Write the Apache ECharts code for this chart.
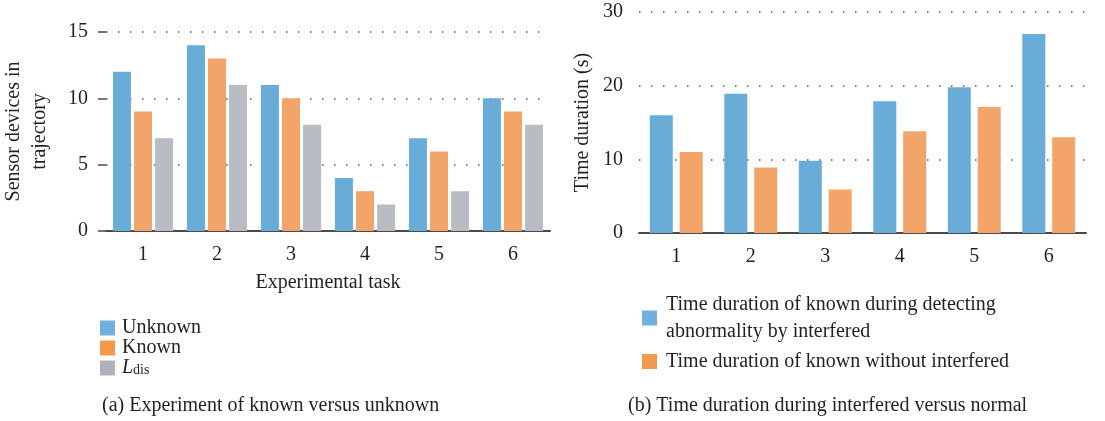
<!DOCTYPE html>
<html>
<head>
<meta charset="utf-8">
<script src="https://cdn.jsdelivr.net/npm/echarts@6/dist/echarts.min.js"></script>
<style>
  html, body { margin: 0; padding: 0; background: #fff; }
  #chart { width: 1105px; height: 421px; }
</style>
</head>
<body>
<div id="chart"></div>
<script>
// data
const tasks = ['1', '2', '3', '4', '5', '6'];
const unknownVals = [12, 14, 11, 4, 7, 10];
const knownVals = [9, 13, 10, 3, 6, 9];
const ldisVals = [7, 11, 8, 2, 3, 8];
const interferedVals = [16, 18.9, 9.8, 17.9, 19.8, 27];
const normalVals = [11, 8.9, 5.9, 13.8, 17.1, 13];
const leftTicks = [0, 5, 10, 15];
const rightTicks = [0, 10, 20, 30];

const serif = '"Liberation Serif", "DejaVu Serif", serif';
const textColor = '#231f20';
const blue = '#69acd8', orange = '#f3a469', grey = '#b9bcc3';

const chart = echarts.init(document.getElementById('chart'));

const catAxis = (gridIndex, name) => ({
  type: 'category',
  gridIndex,
  data: tasks,
  name,
  nameLocation: 'middle',
  nameGap: 42,
  nameTextStyle: { fontFamily: serif, fontSize: 20, color: textColor },
  axisLine: { lineStyle: { color: '#4a4a4a', width: 2 } },
  axisTick: { alignWithLabel: true, length: 6, lineStyle: { color: '#4a4a4a', width: 1.5 } },
  axisLabel: { fontFamily: serif, fontSize: 20, color: textColor, margin: 14 },
});

const valAxis = (gridIndex, ticks, name, nameGap, showTick) => ({
  type: 'value',
  gridIndex,
  min: ticks[0],
  max: ticks[ticks.length - 1],
  interval: ticks[1] - ticks[0],
  name,
  nameLocation: 'middle',
  nameGap,
  nameTextStyle: { fontFamily: serif, fontSize: 20, color: textColor, lineHeight: 26 },
  axisLine: { show: false },
  axisTick: { show: showTick, length: 8, lineStyle: { color: '#4a4a4a', width: 1.5 } },
  axisLabel: { fontFamily: serif, fontSize: 20, color: textColor, margin: showTick ? 18 : 16 },
  splitLine: {
    lineStyle: { color: '#555', width: 1.5, type: [1.5, 10.5] }
  },
});

const bar = (name, data, color, axisIdx, width, gap) => ({
  name,
  type: 'bar',
  xAxisIndex: axisIdx,
  yAxisIndex: axisIdx,
  data,
  barWidth: width,
  barGap: gap,
  itemStyle: { color },
});

const option = {
  animation: false,
  grid: [
    { left: 100, width: 450, top: 32, height: 199 },
    { left: 639, width: 447, top: 12, height: 221 },
  ],
  xAxis: [catAxis(0, 'Experimental task'), catAxis(1, '')],
  yAxis: [
    valAxis(0, leftTicks, 'Sensor devices in\ntrajectory', 53, true),
    valAxis(1, rightTicks, 'Time duration (s)', 43, false),
  ],
  legend: [
    {
      orient: 'vertical',
      left: 100,
      top: 318,
      padding: 0,
      itemWidth: 15,
      itemHeight: 15,
      itemGap: 0,
      icon: 'rect',
      data: [
        { name: 'Unknown', itemStyle: { color: '#6fb0dc' } },
        { name: 'Known', itemStyle: { color: '#f2994c' } },
        { name: 'Ldis', itemStyle: { color: '#aeb2bb' } },
      ],
      formatter: n => n === 'Ldis' ? '{i|L}{s|dis}' : n,
      textStyle: {
        fontFamily: serif, fontSize: 20, color: textColor, lineHeight: 19, padding: [0, 0, 0, 2],
        rich: {
          i: { fontFamily: serif, fontSize: 20, fontStyle: 'italic', color: textColor, lineHeight: 19 },
          s: { fontFamily: serif, fontSize: 14, color: textColor, lineHeight: 9, verticalAlign: 'bottom' },
        },
      },
    },
    {
      orient: 'vertical',
      left: 642,
      top: 291,
      padding: 0,
      itemWidth: 15,
      itemHeight: 15,
      itemGap: 3,
      icon: 'rect',
      data: [
        { name: 'Time duration of known during detecting\nabnormality by interfered', itemStyle: { color: '#6fb0dc' } },
        { name: 'Time duration of known without interfered', itemStyle: { color: '#f2994c' } },
      ],
      textStyle: { fontFamily: serif, fontSize: 20, color: textColor, lineHeight: 27, padding: [0, 0, 0, 4] },
    },
  ],
  title: [
    {
      text: '(a) Experiment of known versus unknown',
      left: 97, top: 391,
      textStyle: { fontFamily: serif, fontSize: 20, fontWeight: 'normal', color: textColor },
    },
    {
      text: '(b) Time duration during interfered versus normal',
      left: 623, top: 391,
      textStyle: { fontFamily: serif, fontSize: 20, fontWeight: 'normal', color: textColor },
    },
  ],
  series: [
    bar('Unknown', unknownVals, blue, 0, 18, '17%'),
    bar('Known', knownVals, orange, 0, 18, '17%'),
    bar('Ldis', ldisVals, grey, 0, 18, '17%'),
    bar('Time duration of known during detecting\nabnormality by interfered', interferedVals, blue, 1, 23, '30%'),
    bar('Time duration of known without interfered', normalVals, orange, 1, 23, '30%'),
  ],
};

chart.setOption(option);
window.addEventListener('resize', () => chart.resize());
</script>
</body>
</html>
